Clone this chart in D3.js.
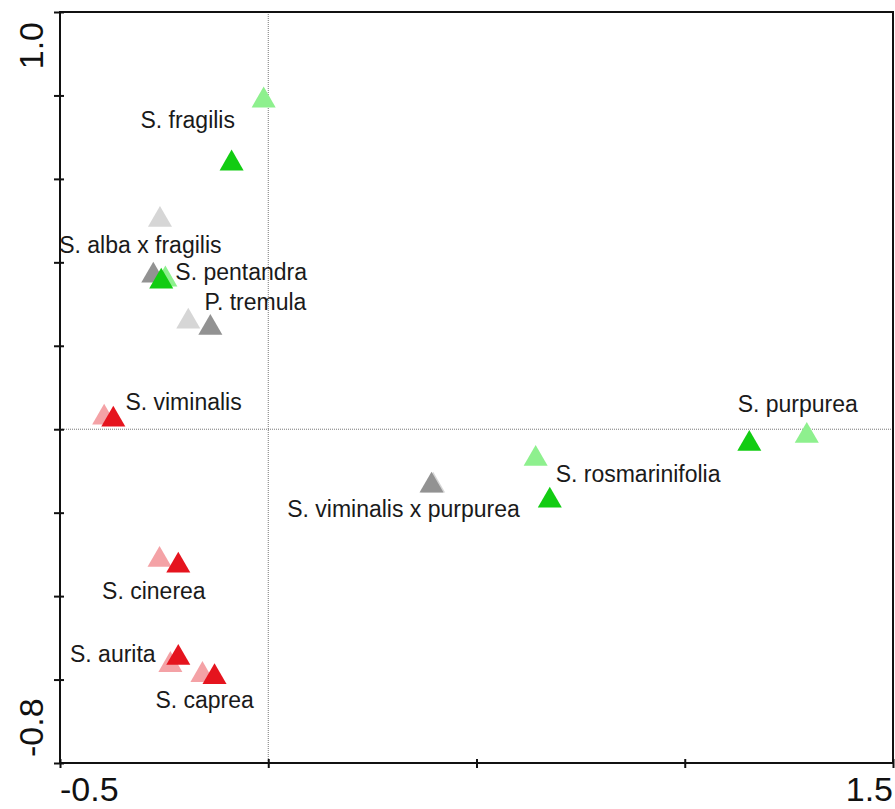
<!DOCTYPE html>
<html>
<head>
<meta charset="utf-8">
<script src="https://cdn.jsdelivr.net/npm/d3@7"></script>
<style>
  body { margin: 0; background: #fff; }
  text { font-family: "Liberation Sans", Arial, sans-serif; }
</style>
</head>
<body>
<div id="chart"></div>
<script>
// species, in drawing order
var species = ["S. fragilis", "S. alba x fragilis", "S. pentandra", "P. tremula",
  "S. viminalis", "S. cinerea", "S. aurita", "S. caprea",
  "S. viminalis x purpurea", "S. rosmarinifolia", "S. purpurea"];
var group = ["green", "gray", "green", "gray", "red", "red", "red", "red",
  "gray", "green", "green"];

// ordination scores, light (first) and dark (second) marker
var lightX = [-0.011, -0.260, -0.247, -0.192, -0.394, -0.261, -0.235, -0.158, 0.396, 0.642, 1.293];
var lightY = [0.788, 0.502, 0.359, 0.258, 0.028, -0.313, -0.565, -0.589, -0.135, -0.071, -0.016];
var darkX = [-0.088, -0.276, -0.257, -0.139, -0.372, -0.216, -0.216, -0.129, 0.392, 0.676, 1.155];
var darkY = [0.637, 0.368, 0.354, 0.243, 0.023, -0.327, -0.548, -0.594, -0.135, -0.171, -0.035];

// label anchors in axis units
var labelX = [-0.307, -0.502, -0.223, -0.153, -0.343, -0.399, -0.476, -0.271, 0.604, 0.690, 1.127];
var labelY = [0.722, 0.422, 0.357, 0.285, 0.046, -0.408, -0.559, -0.669, -0.211, -0.127, 0.041];
var labelAnchor = ["start", "start", "start", "start", "start", "start", "start", "start", "end", "start", "start"];

var xTicks = [-0.5, 0, 0.5, 1.0, 1.5];
var yTicks = [-0.8, -0.6, -0.4, -0.2, 0, 0.2, 0.4, 0.6, 0.8, 1.0];

var colors = {
  green: ["#8ef08e", "#12cc12"],
  gray: ["#d6d6d6", "#929292"],
  red: ["#f4a2a6", "#e5141e"]
};

var width = 895, height = 809;
var margin = { top: 12, right: 2, bottom: 46, left: 60 };

var x = d3.scaleLinear().domain([-0.5, 1.5]).range([margin.left, width - margin.right]);
var y = d3.scaleLinear().domain([-0.8, 1.0]).range([height - margin.bottom, margin.top]);

var svg = d3.select("#chart").append("svg")
  .attr("width", width)
  .attr("height", height);

// dotted zero lines
svg.append("line")
  .attr("x1", x(0)).attr("x2", x(0))
  .attr("y1", y(1.0)).attr("y2", y(-0.8))
  .style("stroke", "#777").style("stroke-width", 1).style("stroke-dasharray", "1,1");
svg.append("line")
  .attr("x1", x(-0.5)).attr("x2", x(1.5))
  .attr("y1", y(0)).attr("y2", y(0))
  .style("stroke", "#777").style("stroke-width", 1).style("stroke-dasharray", "1,1");

// frame
svg.append("rect")
  .attr("x", x(-0.5)).attr("y", y(1.0))
  .attr("width", x(1.5) - x(-0.5)).attr("height", y(-0.8) - y(1.0))
  .style("fill", "none").style("stroke", "#111").style("stroke-width", 2);

// axes with ticks crossing the line
var xAxis = d3.axisBottom(x).tickValues(xTicks).tickSize(5).tickFormat("");
svg.append("g").attr("transform", "translate(0," + y(-0.8) + ")").call(xAxis)
  .call(function (g) {
    g.select(".domain").remove();
    g.selectAll(".tick line").attr("y1", -4).style("stroke", "#111").style("stroke-width", 2);
  });
var yAxis = d3.axisLeft(y).tickValues(yTicks).tickSize(6).tickFormat("");
svg.append("g").attr("transform", "translate(" + x(-0.5) + ",0)").call(yAxis)
  .call(function (g) {
    g.select(".domain").remove();
    g.selectAll(".tick line").attr("x1", 4).attr("x2", -6).style("stroke", "#111").style("stroke-width", 2);
  });

// end labels only, plain hyphen for minus
var fmt = function (v) { return d3.format(".1f")(v).replace("\u2212", "-"); };
svg.append("text")
  .attr("x", x(-0.5)).attr("y", 801)
  .style("font-size", "34px").style("fill", "#111")
  .text(fmt(xTicks[0]));
svg.append("text")
  .attr("x", x(1.5)).attr("y", 801)
  .attr("text-anchor", "end")
  .style("font-size", "34px").style("fill", "#111")
  .text(fmt(xTicks[xTicks.length - 1]));
svg.append("text")
  .attr("transform", "translate(43," + (y(1.0) + 10) + ")rotate(-90)")
  .attr("text-anchor", "end")
  .style("font-size", "34px").style("fill", "#111")
  .text(fmt(yTicks[yTicks.length - 1]));
svg.append("text")
  .attr("transform", "translate(43," + (y(-0.8) - 6) + ")rotate(-90)")
  .attr("text-anchor", "start")
  .style("font-size", "34px").style("fill", "#111")
  .text(fmt(yTicks[0]));

// markers
var tri = d3.symbol().type(d3.symbolTriangle).size(250);
var marks = [];
species.forEach(function (s, i) {
  marks.push({ x: lightX[i], y: lightY[i], c: colors[group[i]][0] });
  marks.push({ x: darkX[i], y: darkY[i], c: colors[group[i]][1] });
});
svg.selectAll("path.mark")
  .data(marks)
  .enter()
  .append("path")
  .attr("class", "mark")
  .attr("d", tri)
  .attr("transform", function (d) { return "translate(" + x(d.x) + "," + y(d.y) + ")"; })
  .style("fill", function (d) { return d.c; });

// species labels
svg.selectAll("text.lab")
  .data(species)
  .enter()
  .append("text")
  .attr("class", "lab")
  .attr("x", function (d, i) { return x(labelX[i]); })
  .attr("y", function (d, i) { return y(labelY[i]); })
  .attr("text-anchor", function (d, i) { return labelAnchor[i]; })
  .style("font-size", "23px")
  .style("fill", "#1a1a1a")
  .text(function (d) { return d; });
</script>
</body>
</html>
